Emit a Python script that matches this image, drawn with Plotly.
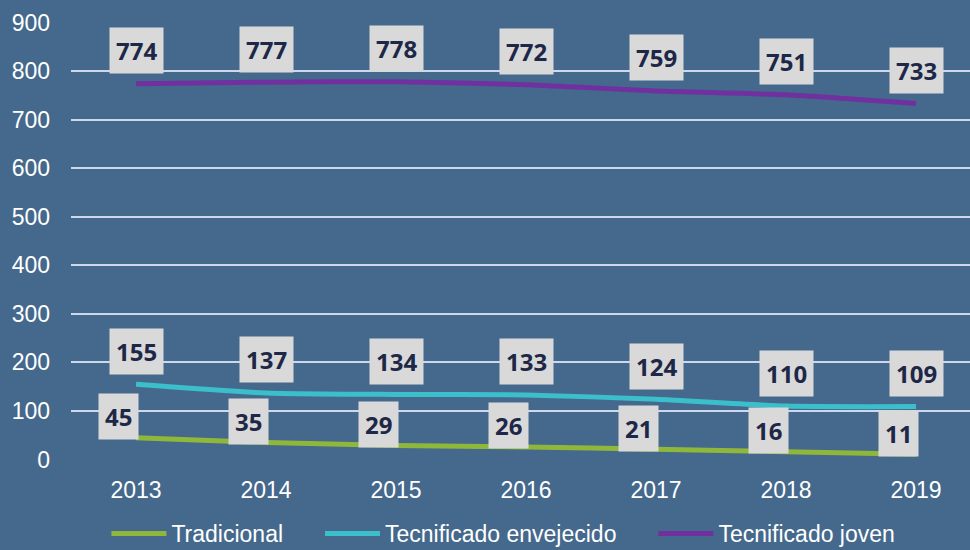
import plotly.graph_objects as go

years = ["2013", "2014", "2015", "2016", "2017", "2018", "2019"]
tradicional = [45, 35, 29, 26, 21, 16, 11]
envejecido = [155, 137, 134, 133, 124, 110, 109]
joven = [774, 777, 778, 772, 759, 751, 733]
names = ["Tradicional", "Tecnificado envejecido", "Tecnificado joven"]
colors = ["#8fb83a", "#3abfcb", "#7030a0"]
y_ticks = [0, 100, 200, 300, 400, 500, 600, 700, 800, 900]

series = [tradicional, envejecido, joven]
shifts = [(-18, 21), (0, 33), (0, 33)]
pad = "\u00a0" * 5

fig = go.Figure()
for k, (name, vals, col) in enumerate(zip(names, series, colors)):
    label = name + (pad if k < 2 else "")
    fig.add_trace(go.Scatter(x=years, y=vals, name=label, mode="lines",
                             line=dict(color=col, width=5, shape="spline", smoothing=0.6)))

for vals, (xs, ys) in zip(series, shifts):
    for i, v in enumerate(vals):
        fig.add_annotation(x=i, y=v, xref="x", yref="y", text="<b>%d</b>" % v, showarrow=False,
                           xshift=xs, yshift=ys, bgcolor="#d9d9d9", borderpad=6,
                           font=dict(family="Open Sans", size=24, color="#1d2747"))

bg = "#45698c"
fig.update_layout(
    width=970, height=550, paper_bgcolor=bg, plot_bgcolor=bg,
    margin=dict(l=71, r=0, t=22, b=90, autoexpand=False),
    showlegend=True,
    legend=dict(orientation="h", x=0.481, xanchor="center", yref="container", y=0.03, yanchor="middle",
                font=dict(family="Liberation Sans", size=23, color="white"),
                itemwidth=55, bgcolor="rgba(0,0,0,0)", traceorder="normal"),
    xaxis=dict(type="category", range=[-0.5, 6.415], showgrid=False, zeroline=False,
               showline=False, ticks="", ticklabelstandoff=14,
               tickfont=dict(family="Liberation Sans", size=23, color="white")),
    yaxis=dict(range=[-1, 901], tickvals=y_ticks, showgrid=True, gridcolor="#cdd8ee", gridwidth=2,
               zeroline=False, showline=False, ticks="", ticklabelstandoff=20,
               tickfont=dict(family="Liberation Sans", size=23, color="white")),
)

fig.write_html("out.html", config={"displayModeBar": False},
               post_script="document.body.style.margin='0';")
